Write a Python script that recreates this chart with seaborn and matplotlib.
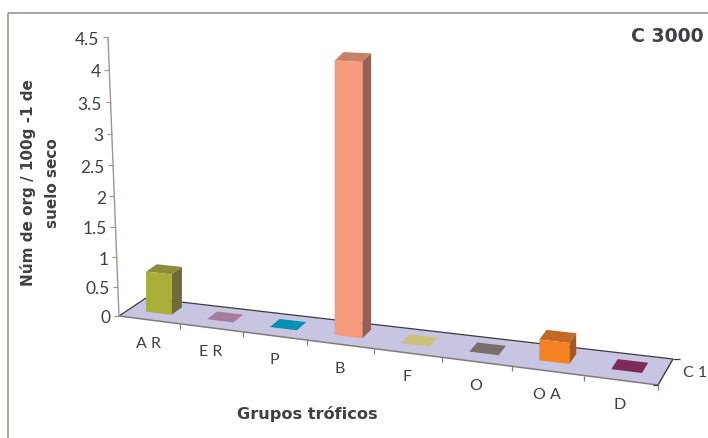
import numpy as np
import pandas as pd
import matplotlib
matplotlib.use("Agg")
import matplotlib.pyplot as plt
from matplotlib.patches import Polygon
from matplotlib.transforms import Affine2D, Transform
import seaborn as sns

# Chart data
grupos = ["A R", "E R", "P", "B", "F", "O", "O A", "D"]
valores = [0.68, 0.0, 0.0, 4.2, 0.0, 0.0, 0.32, 0.0]
ticks_valor = [0, 0.5, 1, 1.5, 2, 2.5, 3, 3.5, 4, 4.5]
etiquetas_valor = ["0", "0.5", "1", "1.5", "2", "2.5", "3", "3.5", "4", "4.5"]
colores_frente = ["#a9ae38", "#a67d9c", "#0091b4", "#f59a7a",
                  "#cdbf7c", "#79706c", "#f58220", "#7f2a5b"]
colores_tapa = ["#8a8e38", "#a67d9c", "#0091b4", "#c9806a",
                "#cdbf7c", "#79706c", "#c4682a", "#7f2a5b"]
colores_lado = ["#6c6c3a", "#a67d9c", "#0091b4", "#965f55",
                "#cdbf7c", "#79706c", "#a05a28", "#7f2a5b"]

W, H = 708, 439
FUENTE = "Lato"
GRIS = "#3f3f45"
sns.set_theme(style="white")
plt.rcParams["font.family"] = [FUENTE, "DejaVu Sans"]

# Floor plane of the oblique view: corners in pixels
piso = np.array([[119, 317], [658, 386], [673, 360], [146, 299]], float)


def elevar(valor):
    """Pixels of rise for a value on the vertical axis."""
    valor = np.asarray(valor, float)
    return valor * (58.1 + 0.857 * valor)


def proyectar(cat, valor, prof):
    """Category position, value and depth to image pixels."""
    cat, valor, prof = np.broadcast_arrays(np.asarray(cat, float),
                                           np.asarray(valor, float),
                                           np.asarray(prof, float))
    u = cat / 8
    u = u * (0.892 + 0.108 * u)
    frente = piso[0] + (piso[1] - piso[0]) * u[..., None]
    fondo = piso[3] + (piso[2] - piso[3]) * u[..., None]
    p = frente + (fondo - frente) * prof[..., None]
    x = p[..., 0]
    y = p[..., 1] - elevar(valor) * (1 + 0.018 * cat)
    return np.stack([x, y], axis=-1)


pix = Affine2D().scale(1, -1).translate(0, H)


class CaraFrontal(Transform):
    """Maps bar coordinates from the categorical axes onto a plane of the floor."""
    input_dims = output_dims = 2
    is_affine = False
    has_inverse = False

    def __init__(self, prof):
        super().__init__()
        self.prof = prof

    def transform_non_affine(self, values):
        v = np.asarray(values, float)
        p = proyectar(v[:, 0] + 0.5, v[:, 1], self.prof)
        return np.column_stack([p[:, 0], H - p[:, 1]])


fig = plt.figure(figsize=(W / 100, H / 100), dpi=100, facecolor="white")
ax = fig.add_axes([0, 0, 1, 1])

datos = pd.DataFrame({"grupo": grupos, "valor": valores})
sns.barplot(data=datos, x="grupo", y="valor", hue="grupo", palette=colores_frente,
            hue_order=grupos, order=grupos, width=0.42, saturation=1,
            legend=False, ax=ax, linewidth=0, zorder=5)
ax.set_axis_off()


def poligono(puntos, **kw):
    kw.setdefault("linewidth", 0)
    kw.setdefault("clip_on", False)
    ax.add_patch(Polygon(puntos, closed=True, transform=pix, **kw))


def linea(x, y, color, lw=1.0, z=3):
    ax.plot(x, y, color=color, lw=lw, transform=pix, clip_on=False,
            solid_capstyle="butt", zorder=z)


def texto(x, y, s, **kw):
    kw.setdefault("color", GRIS)
    kw.setdefault("ha", "center")
    kw.setdefault("va", "center")
    ax.text(x, y, s, transform=pix, clip_on=False, **kw)


# Outer frame
linea([8, 8], [H, 14], "#a89a98", 1.3)
linea([8, W], [14, 14], "#a89a98", 1.3)

# Floor and its edges
poligono(piso, facecolor="#c8c5e2", zorder=1)
linea(piso[[0, 3], 0], piso[[0, 3], 1], "#3a3a40", 0.9)
linea(piso[[3, 2], 0], piso[[3, 2], 1], "#3a3a40", 0.9)
linea(piso[[2, 1], 0], piso[[2, 1], 1], "#3a3a40", 1.0)
linea(piso[[0, 1], 0], piso[[0, 1], 1], "#857a78", 1.1)

# Value axis
base = np.array([119.0, 317.0])
tope = np.array([108.0, 38.0])
linea([base[0], tope[0]], [base[1], tope[1]], "#a09592", 1.0)
for t, et in zip(ticks_valor, etiquetas_valor):
    y = 317 - float(elevar(t))
    x = base[0] + (tope[0] - base[0]) * (317 - y) / 279
    linea([x - 5, x], [y, y], "#a09592", 0.9)
    texto(x - 8.5, y + 1.5, et, ha="right", fontsize=12.5)

# Category ticks and labels along the front edge
for i, g in enumerate(grupos):
    px, py = proyectar(i + 1, 0, 0)
    linea([px, px], [py, py + 5], "#857a78", 0.9)
    cx, cy = proyectar(i + 0.5, 0, 0)
    texto(cx - 1, cy + 23.5, g, fontsize=11.5)

# Depth axis tick and label
linea([673, 680], [360, 360], "#3a3a40", 0.9)
linea([658, 653], [386, 386], "#3a3a40", 0.9)
texto(695, 373, "C 1", fontsize=11.5)

# Bars: front faces come from the categorical axes, top and side are projected
P0, P1 = 0.36, 0.76
for rect, tapa, lado in zip(ax.patches, colores_tapa, colores_lado):
    rect.set_transform(CaraFrontal(P0))
    rect.set_clip_on(False)
    c0 = rect.get_x() + 0.5
    c1 = c0 + rect.get_width()
    v = rect.get_height()
    poligono(proyectar([c0, c1, c1, c0], v, [P0, P0, P1, P1]), facecolor=tapa, zorder=4)
    if v > 0:
        poligono(proyectar([c1, c1, c1, c1], [0, v, v, 0], [P0, P0, P1, P1]),
                 facecolor=lado, zorder=4)

# Titles
texto(667, 37, "C 3000", fontsize=13.6, fontweight="bold", family="DejaVu Sans")
texto(307, 414, "Grupos tróficos", fontsize=11.6, fontweight="bold", family="DejaVu Sans")
texto(40, 183, "Núm de org / 100g -1 de\nsuelo seco", fontsize=11, fontweight="bold",
      family="DejaVu Sans", rotation=90, linespacing=1.75, multialignment="center")

fig.savefig("out.png", dpi=100, facecolor="white")
